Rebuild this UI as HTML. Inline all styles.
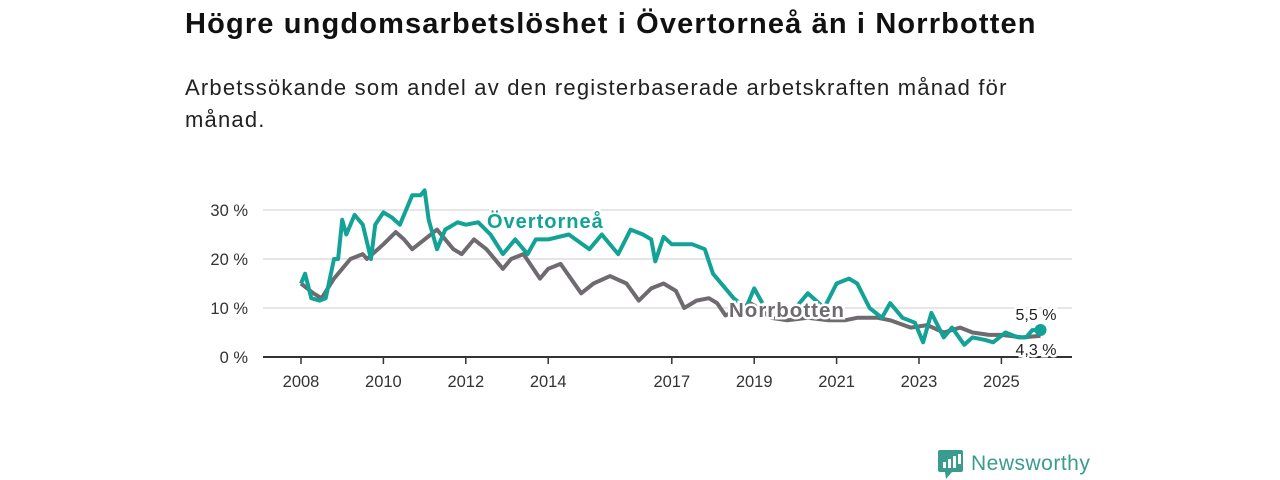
<!DOCTYPE html>
<html><head><meta charset="utf-8"><style>
body{margin:0;width:1280px;height:480px;background:#fff;font-family:"Liberation Sans","DejaVu Sans",sans-serif;overflow:hidden;position:relative}
h1{position:absolute;left:185px;top:8px;margin:0;font-size:29px;letter-spacing:1.15px;font-weight:bold;color:#111}
p{position:absolute;left:185px;top:72px;margin:0;font-size:22px;letter-spacing:1.2px;line-height:32px;color:#222;width:880px}
svg{position:absolute;left:0;top:0}
</style></head><body>
<h1>Högre ungdomsarbetslöshet i Övertorneå än i Norrbotten</h1>
<p>Arbetssökande som andel av den registerbaserade arbetskraften månad för månad.</p>
<svg width="1280" height="480">
<g id="grid"></g>
<g id="series"></g>
<g id="labels"></g>
<g>
<rect x="938" y="450" width="25" height="22" rx="2" fill="#3a9b8f"/>
<polygon points="945,472 952,472 946,479" fill="#3a9b8f"/>
<rect x="943" y="462" width="3" height="6" fill="#fff"/><rect x="948" y="459" width="3" height="9" fill="#fff"/><rect x="953" y="456" width="3" height="12" fill="#fff"/><rect x="958" y="454" width="3" height="10" fill="#fff"/>
<text x="971" y="470" font-size="21" letter-spacing="0.5" fill="#3a9b8f" font-family="Liberation Sans, sans-serif">Newsworthy</text>
</g>
</svg>
<script>
const yTicks=[0,10,20,30];
const xTickYears=[2008,2010,2012,2014,2017,2019,2021,2023,2025];
const overT=[2008.0,2008.1,2008.25,2008.45,2008.6,2008.8,2008.9,2009.0,2009.1,2009.3,2009.5,2009.7,2009.8,2010.0,2010.2,2010.4,2010.5,2010.7,2010.9,2011.0,2011.1,2011.3,2011.5,2011.8,2012.0,2012.3,2012.6,2012.9,2013.2,2013.5,2013.7,2014.0,2014.5,2015.0,2015.3,2015.7,2016.0,2016.3,2016.5,2016.6,2016.8,2017.0,2017.5,2017.8,2018.0,2018.3,2018.5,2018.8,2019.0,2019.2,2019.3,2019.8,2020.0,2020.3,2020.7,2021.0,2021.3,2021.5,2021.8,2022.1,2022.3,2022.6,2022.9,2023.1,2023.3,2023.6,2023.8,2024.1,2024.3,2024.6,2024.8,2025.1,2025.4,2025.6,2025.75,2025.95];
const overV=[15,17,12,11.5,12,20,20,28,25,29,27,20,27,29.5,28.5,27,29,33,33,34,28,22,26,27.5,27,27.5,25,21,24,21,24,24,25,22,25,21,26,25,24,19.5,24.5,23,23,22,17,14,12,10,14,11,null,null,10,13,10,15,16,15,10,8,11,8,7,3,9,4,6,2.5,4,3.5,3,5,4,4,5.5,5.5];
const norT=[2008.0,2008.3,2008.5,2008.8,2009.0,2009.2,2009.5,2009.6,2010.0,2010.3,2010.5,2010.7,2011.0,2011.3,2011.7,2011.9,2012.2,2012.5,2012.9,2013.1,2013.4,2013.8,2014.0,2014.3,2014.8,2015.1,2015.5,2015.9,2016.2,2016.5,2016.8,2017.1,2017.3,2017.6,2017.9,2018.1,2018.3,2018.7,2018.9,2019.1,2019.4,2019.8,2020.3,2020.8,2021.2,2021.5,2022.0,2022.3,2022.8,2023.2,2023.6,2024.0,2024.3,2024.7,2025.0,2025.5,2025.95];
const norV=[15,13,12,16,18,20,21,20,23,25.5,24,22,24,26,22,21,24,22,18,20,21,16,18,19,13,15,16.5,15,11.5,14,15,13.5,10,11.5,12,11,8.5,10,11,10,8,7.5,8,7.5,7.5,8,8,7.5,6,6.5,5,6,5,4.5,4.5,4,4.3];
const NS='http://www.w3.org/2000/svg';
const x0=263,x1=1072,yb=357,pxPerPct=4.9;
function xs(yr){return 301+(yr-2008)*41.2;}
function ys(v){return yb-v*pxPerPct;}
function mk(tag,attrs,parent){const e=document.createElementNS(NS,tag);for(const k in attrs)e.setAttribute(k,attrs[k]);parent.appendChild(e);return e;}
const grid=document.getElementById('grid'),ser=document.getElementById('series'),lab=document.getElementById('labels');
yTicks.forEach(t=>{
 const l=mk('line',{x1:x0,x2:x1,y1:ys(t),y2:ys(t),stroke:t===0?'#333':'#ddd','stroke-width':t===0?2:1.5},grid);
 
 
 const tx=mk('text',{x:248,y:ys(t)+6,'text-anchor':'end','font-size':16.5,fill:'#333'},grid);
 tx.textContent=t+' %';
 
 
});
xTickYears.forEach(y=>{
 const l=mk('line',{x1:xs(y),x2:xs(y),y1:yb,y2:yb+7,stroke:'#333','stroke-width':1.5},grid);
 
 
 const tx=mk('text',{x:xs(y),y:387,'text-anchor':'middle','font-size':16.5,fill:'#333'},grid);
 tx.textContent=y;
 
 
});
function path(T,V){let d='',pen=false;T.forEach((t,i)=>{if(V[i]==null){pen=false;return;}d+=(pen?'L':'M')+xs(t).toFixed(1)+','+ys(V[i]).toFixed(1);pen=true;});return d;}
const pn=mk('path',{d:path(norT,norV),fill:'none',stroke:'#6e6a70','stroke-width':4,'stroke-linejoin':'round'},ser);


const po=mk('path',{d:path(overT,overV),fill:'none',stroke:'#12a296','stroke-width':4,'stroke-linejoin':'round'},ser);


const d1=mk('circle',{cx:xs(overT[overT.length-1]),cy:ys(overV[overV.length-1]),r:6,fill:'#12a296'},ser);


function lbl(txt,x,y,c,sz,w,anchor,ls){const t=mk('text',{x:x,y:y,'font-size':sz,'font-weight':w,fill:c,stroke:'#fff','stroke-width':5,'paint-order':'stroke','text-anchor':anchor||'start','letter-spacing':ls||0},lab);t.textContent=txt;return t;}
let a=lbl('Övertorneå',487,228,'#12a296',20,'bold','start',1);


a=lbl('Norrbotten',729,317,'#6e6a70',20.5,'bold','start',1);


a=lbl('5,5 %',1036,320,'#222',16,'normal','middle');


a=lbl('4,3 %',1036,355,'#222',16,'normal','middle');


</script>
</body></html>
